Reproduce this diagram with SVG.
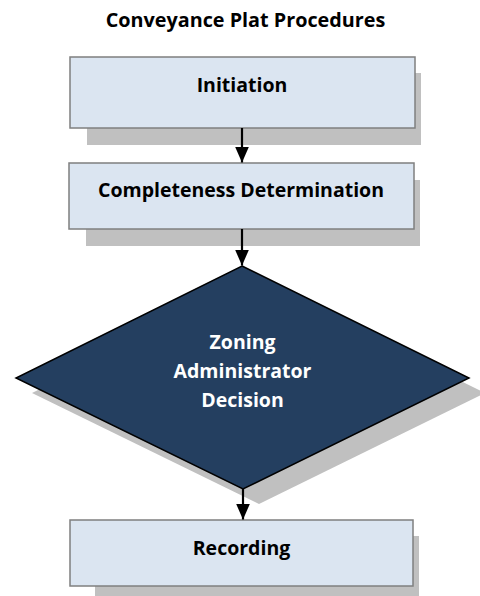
<svg xmlns="http://www.w3.org/2000/svg" width="480" height="596" viewBox="0 0 480 596">
<style>
text{font-family:"Open Sans","Liberation Sans",sans-serif;font-weight:bold;font-size:19.5px;text-anchor:middle}
.box{fill:#dbe5f1;stroke:#7f7f7f;stroke-width:1.5}
.shadow{fill:#c0c0c0}
.dia{fill:#243f60;stroke:#000;stroke-width:1.5}
.conn{stroke:#000;stroke-width:2.2;fill:none}
.w{fill:#ffffff}
</style>
<defs>
<marker id="ah" markerWidth="16" markerHeight="14" refX="16" refY="7" orient="auto" markerUnits="userSpaceOnUse" viewBox="0 0 16 14">
<path d="M0,0 L16,7 L0,14 z" fill="#000"/>
</marker>
</defs>
<rect width="480" height="596" fill="#fff"/>
<text id="title" x="245.5" y="27" style="font-size:19.8px">Conveyance Plat Procedures</text>

<g id="initiation">
<rect class="shadow" x="87" y="73" width="334" height="72"/>
<rect class="box" x="70" y="57" width="345" height="71"/>
<text x="242" y="92">Initiation</text>
</g>

<g id="completeness">
<rect class="shadow" x="86" y="180" width="334" height="66"/>
<rect class="box" x="69" y="163" width="345" height="66"/>
<text x="241" y="197">Completeness Determination</text>
</g>

<g id="decision">
<polygon class="shadow" points="258,281 485,393 259,504 32,393"/>
<polygon class="dia" points="242,266 469,378 243,489 16,378"/>
<text class="w" x="242.5" y="349">Zoning</text>
<text class="w" x="242.5" y="378">Administrator</text>
<text class="w" x="242.5" y="407">Decision</text>
</g>

<g id="recording">
<rect class="shadow" x="95" y="536" width="324" height="66"/>
<rect class="box" x="70" y="520" width="343" height="66"/>
<text x="241.5" y="555">Recording</text>
</g>

<g id="connectors">
<line class="conn" x1="242" y1="128" x2="242" y2="162.5" marker-end="url(#ah)"/>
<line class="conn" x1="242" y1="229" x2="242" y2="265.5" marker-end="url(#ah)"/>
<line class="conn" x1="243" y1="489" x2="243" y2="519.5" marker-end="url(#ah)"/>
</g>
</svg>
